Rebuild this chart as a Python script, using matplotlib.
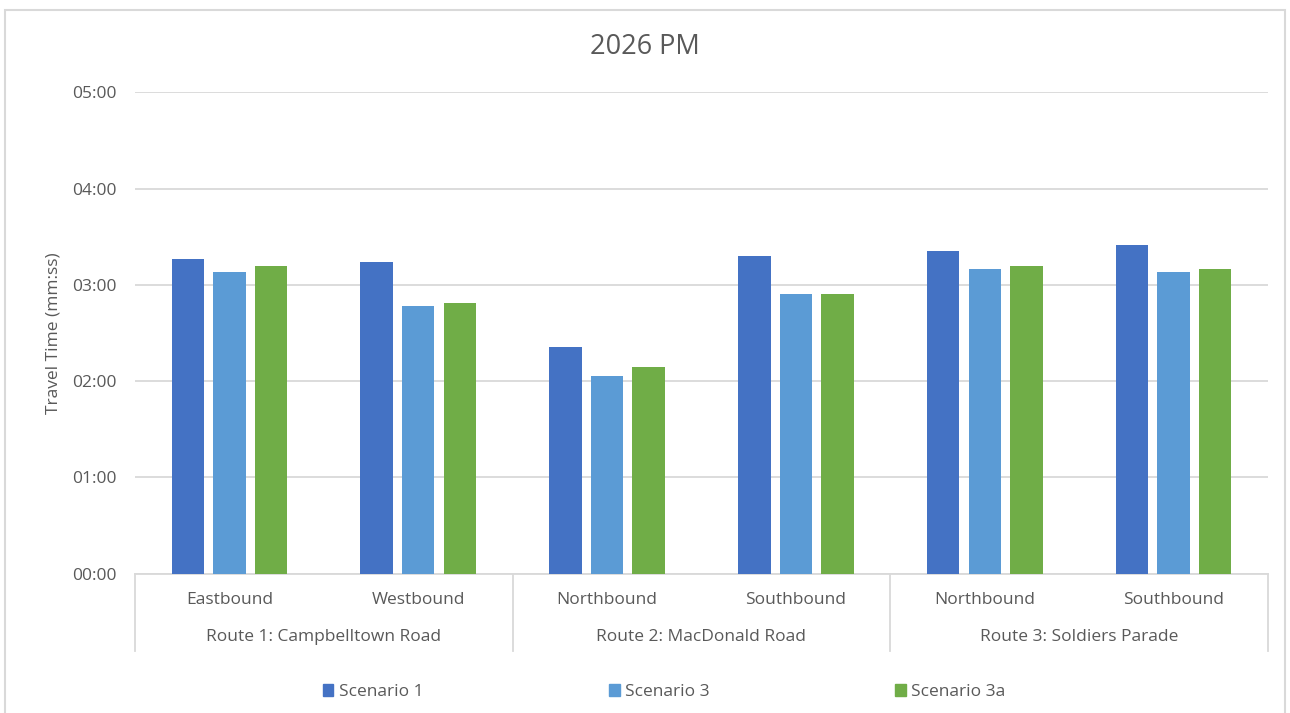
import numpy as np
import matplotlib.pyplot as plt
from matplotlib.patches import Patch, Rectangle
from matplotlib.ticker import FuncFormatter, MultipleLocator
import matplotlib.transforms as mtransforms

plt.rcParams['font.family'] = ['Open Sans', 'DejaVu Sans']

# travel times in seconds
directions = ["Eastbound", "Westbound", "Northbound", "Southbound", "Northbound", "Southbound"]
routes = ["Route 1: Campbelltown Road", "Route 2: MacDonald Road", "Route 3: Soldiers Parade"]
route_sizes = [2, 2, 2]
scenario_1 = [196, 194, 141, 198, 201, 205]
scenario_3 = [188, 167, 123, 174, 190, 188]
scenario_3a = [192, 169, 129, 174, 192, 190]

series = [("Scenario 1", scenario_1, "#4472C4"),
          ("Scenario 3", scenario_3, "#5B9BD5"),
          ("Scenario 3a", scenario_3a, "#70AD47")]

text_col = "#595959"
grid_col = "#D9D9D9"
fs = 12.5

fig = plt.figure(figsize=(12.9, 7.13), dpi=100)
ax = fig.add_axes([135/1290, 1 - 573.7/713, (1268 - 135)/1290, (573.7 - 92.3)/713])

x = np.arange(len(directions))
bar_w = 0.172
step = 0.22
for i, (name, vals, col) in enumerate(series):
    ax.bar(x + (i - 1) * step, vals, width=bar_w, color=col, label=name, zorder=3)

ax.set_xlim(-0.5, len(directions) - 0.5)
ax.set_ylim(0, 300)
ax.yaxis.set_major_locator(MultipleLocator(60))
ax.yaxis.set_major_formatter(FuncFormatter(lambda v, p: f"{int(v)//60:02d}:{int(v)%60:02d}"))
ax.grid(axis='y', color=grid_col, linewidth=1.3, zorder=0)
for s in ['top', 'right', 'left']:
    ax.spines[s].set_visible(False)
ax.spines['bottom'].set_color(grid_col)
ax.spines['bottom'].set_linewidth(1.3)
ax.tick_params(axis='y', length=0, pad=13, labelsize=fs, labelcolor=text_col)
ax.set_xticks([])
ax.set_ylabel("Travel Time (mm:ss)", fontsize=fs, color=text_col, labelpad=8)

# two-level category axis
trans = mtransforms.blended_transform_factory(ax.transData, ax.transAxes)
for xi, d in zip(x, directions):
    ax.text(xi, -0.055, d, transform=trans, ha='center', va='center',
            fontsize=fs, color=text_col)
edges = np.concatenate([[0], np.cumsum(route_sizes)]) - 0.5
for j, r in enumerate(routes):
    ax.text((edges[j] + edges[j + 1]) / 2, -0.132, r, transform=trans,
            ha='center', va='center', fontsize=fs, color=text_col)
for e in edges:
    ax.plot([e, e], [0, -0.16], transform=trans, color=grid_col, lw=1.3, clip_on=False)

fig.text(0.5, 1 - 47/713, "2026 PM", ha='center', va='center', fontsize=19.5, color=text_col)

handles = [Patch(color=c, label=n) for n, v, c in series]
fig.legend(handles=handles, loc='center', bbox_to_anchor=(664/1290, 1 - 692/713), ncol=3,
           frameon=False, fontsize=fs, handlelength=0.62, handleheight=0.62,
           handletextpad=0.3, columnspacing=10.7, labelcolor=text_col)

fig.add_artist(Rectangle((5/1290, -0.05), 1280/1290, 1.05 - 10/713, transform=fig.transFigure,
                         fill=False, edgecolor=grid_col, lw=1.5))

fig.savefig("out.png", dpi=100, facecolor='white')
